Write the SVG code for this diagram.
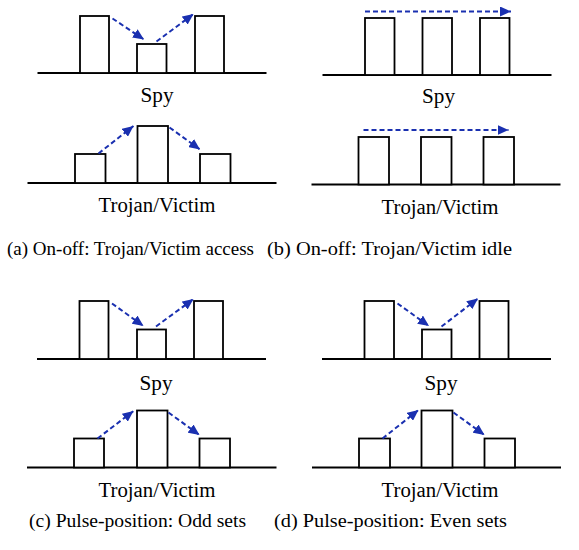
<svg xmlns="http://www.w3.org/2000/svg" width="579" height="550" viewBox="0 0 579 550">
<style>
.base{stroke:#000;stroke-width:2;fill:none}
.bar{stroke:#000;stroke-width:1.8;fill:#fff}
.arr{stroke:#1a30b0;stroke-width:2;stroke-dasharray:5,3;fill:none;marker-end:url(#ah)}
text{font-family:"Liberation Serif","Times New Roman","DejaVu Serif",serif;fill:#000}
.lbl{font-size:20.5px;text-anchor:middle}
.cap{font-size:19.5px}
</style>
<defs>
<marker id="ah" markerUnits="userSpaceOnUse" markerWidth="12" markerHeight="10" refX="11" refY="5" orient="auto">
<path d="M0,0 L11,5 L0,10 Z" fill="#1a30b0"/>
</marker>
</defs>
<rect width="579" height="550" fill="#fff"/>
<g id="panel-a-spy">
<line class="base" x1="37.5" y1="73" x2="266.5" y2="73"/>
<rect class="bar" x="80" y="16" width="29" height="57"/>
<rect class="bar" x="137" y="44" width="29.5" height="29"/>
<rect class="bar" x="195" y="16" width="29" height="57"/>
<text class="lbl" x="157" y="102" textLength="33" lengthAdjust="spacingAndGlyphs">Spy</text>
</g>
<g id="panel-a-trojan">
<line class="base" x1="27.5" y1="183" x2="276.5" y2="183"/>
<rect class="bar" x="75" y="154" width="30.5" height="29"/>
<rect class="bar" x="137.5" y="126" width="30.5" height="57"/>
<rect class="bar" x="200" y="154" width="30.5" height="29"/>
<text class="lbl" x="157" y="212" textLength="117" lengthAdjust="spacingAndGlyphs">Trojan/Victim</text>
</g>
<text id="cap-a" class="cap" x="7" y="255" textLength="247" lengthAdjust="spacingAndGlyphs">(a) On-off: Trojan/Victim access</text>

<g id="panel-b-spy">
<line class="base" x1="322.5" y1="75" x2="551.5" y2="75"/>
<rect class="bar" x="365" y="18" width="29.5" height="57"/>
<rect class="bar" x="422.5" y="18" width="29.5" height="57"/>
<rect class="bar" x="480" y="18" width="29.5" height="57"/>
<text class="lbl" x="438.5" y="103" textLength="33" lengthAdjust="spacingAndGlyphs">Spy</text>
</g>
<g id="panel-b-trojan">
<line class="base" x1="311.5" y1="184.5" x2="560.5" y2="184.5"/>
<rect class="bar" x="358.5" y="137" width="30.5" height="47.5"/>
<rect class="bar" x="421" y="137" width="30.5" height="47.5"/>
<rect class="bar" x="483.5" y="137" width="30.5" height="47.5"/>
<text class="lbl" x="440" y="214" textLength="117" lengthAdjust="spacingAndGlyphs">Trojan/Victim</text>
</g>
<text id="cap-b" class="cap" x="267" y="255" textLength="245" lengthAdjust="spacingAndGlyphs">(b) On-off: Trojan/Victim idle</text>

<g id="panel-c-spy">
<line class="base" x1="37" y1="359" x2="266" y2="359"/>
<rect class="bar" x="79.5" y="301" width="29" height="58"/>
<rect class="bar" x="137" y="329.5" width="29" height="29.5"/>
<rect class="bar" x="194" y="301" width="29" height="58"/>
<text class="lbl" x="156" y="390" textLength="33" lengthAdjust="spacingAndGlyphs">Spy</text>
</g>
<g id="panel-c-trojan">
<line class="base" x1="27" y1="467.5" x2="276.5" y2="467.5"/>
<rect class="bar" x="74" y="438.5" width="30" height="29"/>
<rect class="bar" x="137" y="410.5" width="30.5" height="57"/>
<rect class="bar" x="199.5" y="438.5" width="30.5" height="29"/>
<text class="lbl" x="157" y="497" textLength="117" lengthAdjust="spacingAndGlyphs">Trojan/Victim</text>
</g>
<text id="cap-c" class="cap" x="29" y="527" textLength="217" lengthAdjust="spacingAndGlyphs">(c) Pulse-position: Odd sets</text>

<g id="panel-d-spy">
<line class="base" x1="322" y1="359" x2="551" y2="359"/>
<rect class="bar" x="364.5" y="301" width="29.5" height="58"/>
<rect class="bar" x="422" y="329.5" width="29.5" height="29.5"/>
<rect class="bar" x="479.5" y="301" width="29" height="58"/>
<text class="lbl" x="441" y="390" textLength="33" lengthAdjust="spacingAndGlyphs">Spy</text>
</g>
<g id="panel-d-trojan">
<line class="base" x1="312" y1="467.5" x2="561" y2="467.5"/>
<rect class="bar" x="359" y="438.5" width="31" height="29"/>
<rect class="bar" x="421.5" y="410.5" width="31" height="57"/>
<rect class="bar" x="484.5" y="438.5" width="30.5" height="29"/>
<text class="lbl" x="440" y="497" textLength="117" lengthAdjust="spacingAndGlyphs">Trojan/Victim</text>
</g>
<text id="cap-d" class="cap" x="274" y="527" textLength="233" lengthAdjust="spacingAndGlyphs">(d) Pulse-position: Even sets</text>
<g id="connectors">
<line class="arr" x1="112.5" y1="18.5" x2="144" y2="39.5"/>
<line class="arr" x1="156.5" y1="41.5" x2="193.5" y2="14"/>
<line class="arr" x1="98.5" y1="153.5" x2="133.5" y2="126"/>
<line class="arr" x1="169.5" y1="127.5" x2="200" y2="149.5"/>
<line class="arr" x1="365" y1="11.5" x2="511" y2="11.5"/>
<line class="arr" x1="363.5" y1="130" x2="508.5" y2="130"/>
<line class="arr" x1="112" y1="303.5" x2="143.5" y2="326"/>
<line class="arr" x1="156" y1="326.5" x2="193.5" y2="299"/>
<line class="arr" x1="97.5" y1="438.5" x2="133.5" y2="411"/>
<line class="arr" x1="168.5" y1="412.5" x2="199.5" y2="435"/>
<line class="arr" x1="397.5" y1="303.5" x2="429" y2="326"/>
<line class="arr" x1="441.5" y1="326.5" x2="478" y2="298.5"/>
<line class="arr" x1="382.5" y1="438.5" x2="418.5" y2="410"/>
<line class="arr" x1="453.5" y1="412.5" x2="484.5" y2="435"/>
</g>
</svg>
